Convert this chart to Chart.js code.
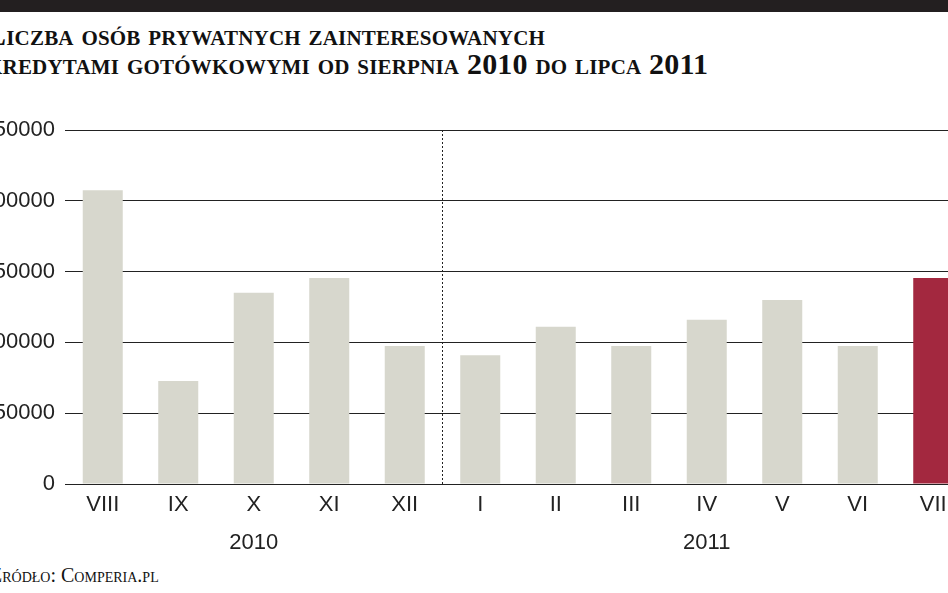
<!DOCTYPE html>
<html><head><meta charset="utf-8">
<script src="https://cdn.jsdelivr.net/npm/chart.js@4/dist/chart.umd.min.js"></script>
<style>
body{margin:0;width:948px;height:593px;overflow:hidden;position:relative;background:#fff;font-family:"Liberation Serif",serif}
#topbar{position:absolute;left:0;top:0;width:948px;height:12px;background:#231f20}
.t{position:absolute;left:-14px;font-weight:bold;font-size:30px;font-variant:small-caps;letter-spacing:0.2px;white-space:nowrap;color:#111}
#src{position:absolute;left:-10px;top:564px;font-size:20px;font-variant:small-caps;color:#111;white-space:nowrap}
#wrap{position:absolute;left:-15px;top:0;width:986px;height:593px}
</style></head><body>
<div id="topbar"></div>
<div class="t" style="top:18px">Liczba osób prywatnych zainteresowanych</div>
<div class="t" style="top:47px">kredytami gotówkowymi od sierpnia 2010 do lipca 2011</div>
<div id="src">Źródło: Comperia.pl</div>
<div id="wrap"><canvas id="c"></canvas></div>
<script>
const categories=["VIII","IX","X","XI","XII","I","II","III","IV","V","VI","VII"];
const values=[207500,72700,135000,145500,97500,91000,111000,97500,116000,130000,97500,145500];
const years=[{label:"2010",from:0,to:4},{label:"2011",from:5,to:11}];
const yTicks=[0,50000,100000,150000,200000,250000];
const colors=values.map((v,i)=>i===values.length-1?"#a3283f":"#d7d7cd");
const font="'Liberation Sans Narrow','Liberation Sans',sans-serif";
const extra={id:"extra",afterDraw(ch){
 const c=ch.ctx,x=ch.scales.x,a=ch.chartArea;
 c.save();
 const sx=(x.getPixelForValue(4)+x.getPixelForValue(5))/2;
 c.setLineDash([2,2]);c.strokeStyle="#222";c.lineWidth=1;
 c.beginPath();c.moveTo(sx,a.top);c.lineTo(sx,a.bottom);c.stroke();
 c.setLineDash([]);
 c.fillStyle="#222";c.font="22px "+font;c.textAlign="center";c.textBaseline="middle";
 years.forEach(y=>{
   const cx=y.label==="2010"?(x.getPixelForValue(y.from)+x.getPixelForValue(y.to))/2:x.getPixelForValue(8);
   c.fillText(y.label,cx,a.bottom+59);
 });
 c.restore();
}};
new Chart(document.getElementById("c"),{type:"bar",
 data:{labels:categories,datasets:[{data:values,backgroundColor:colors,barPercentage:0.53,categoryPercentage:1}]},
 options:{responsive:true,maintainAspectRatio:false,animation:false,
  layout:{padding:{top:130,right:0,left:0,bottom:0}},
  plugins:{legend:{display:false},tooltip:{enabled:false}},
  scales:{
   x:{grid:{display:false,drawTicks:false},border:{color:"#222",width:1},
      ticks:{color:"#222",font:{family:font,size:22},padding:8},
      afterFit(s){s.height=109;}},
   y:{min:0,max:250000,afterBuildTicks(s){s.ticks=yTicks.map(v=>({value:v}));},
      grid:{color:"#222",lineWidth:1,drawTicks:false},border:{display:false},
      ticks:{color:"#222",font:{family:font,size:22},padding:10,callback:v=>String(v)},
      afterFit(s){s.width=80;}}
  }},
 plugins:[extra]});
</script></body></html>
